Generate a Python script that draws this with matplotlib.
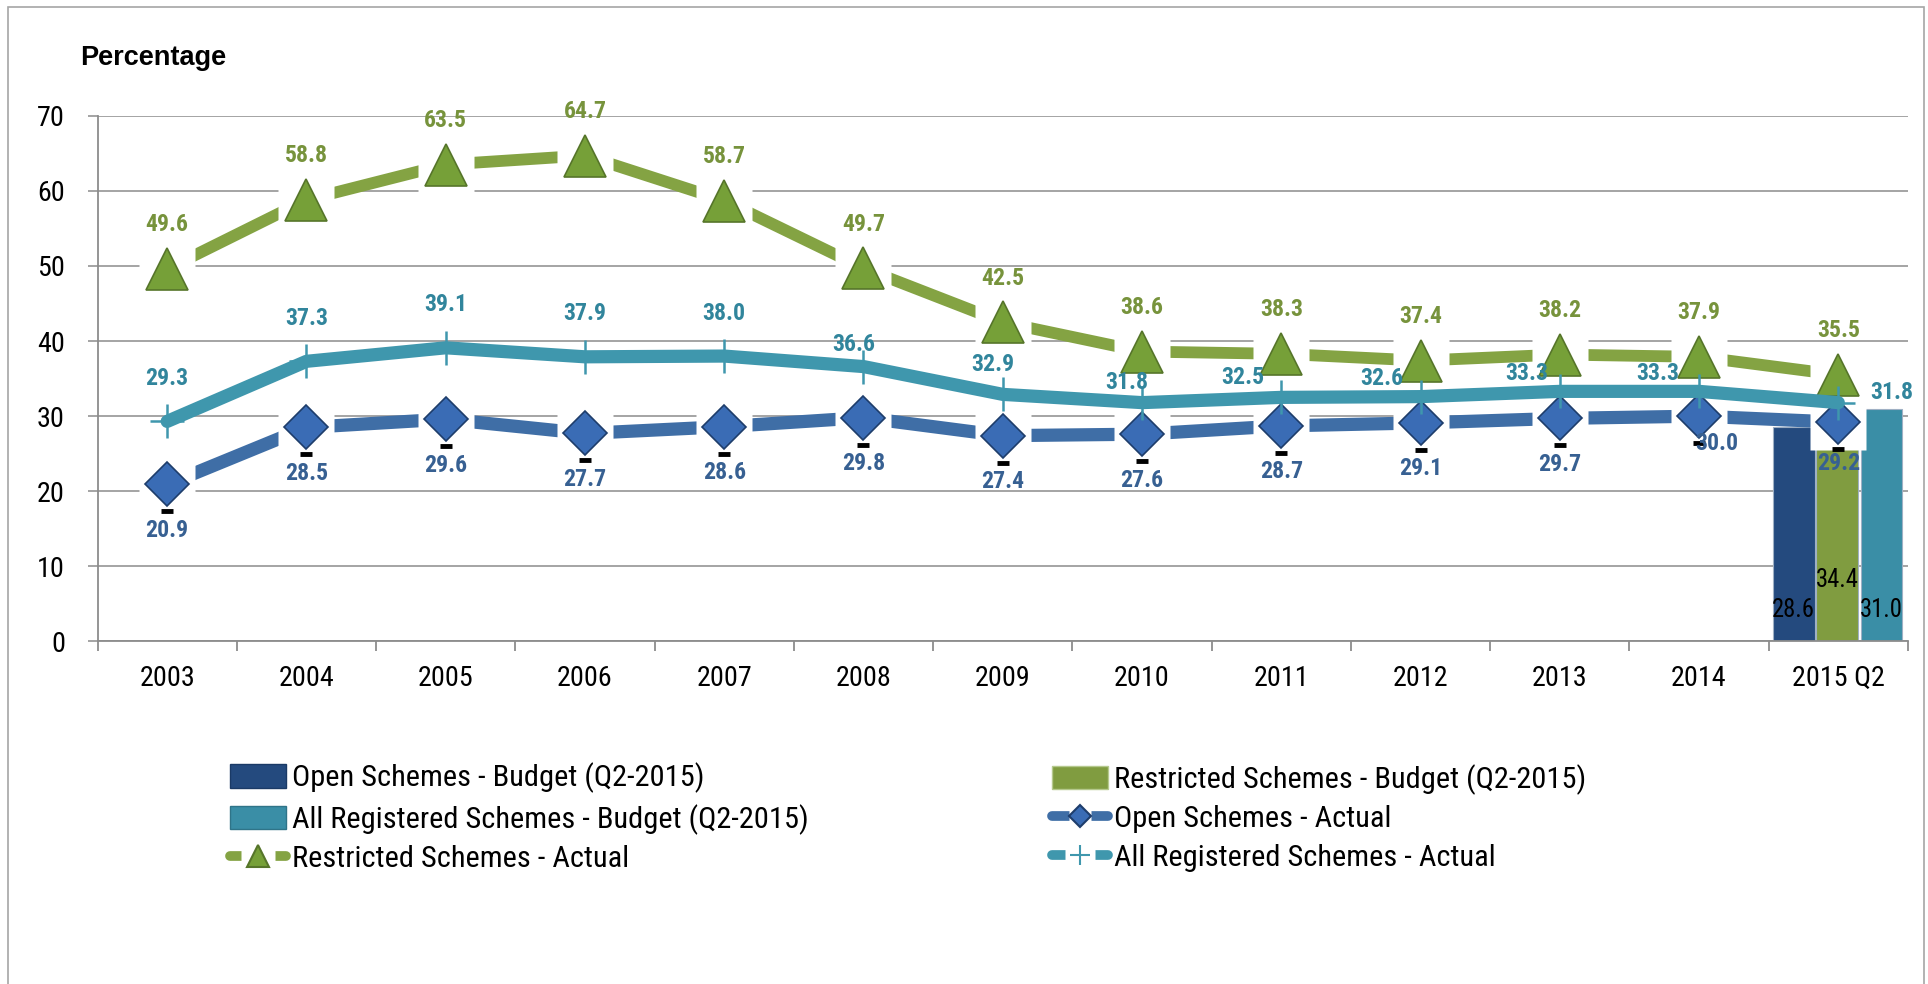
import matplotlib
matplotlib.use('Agg')
import matplotlib.pyplot as plt
from matplotlib import font_manager as fm
from matplotlib import transforms
from matplotlib.lines import Line2D
from matplotlib.patches import Patch, Rectangle
from matplotlib.legend_handler import HandlerTuple
import numpy as np

# Data
categories = ['2003', '2004', '2005', '2006', '2007', '2008', '2009',
              '2010', '2011', '2012', '2013', '2014', '2015 Q2']
restricted_actual = [49.6, 58.8, 63.5, 64.7, 58.7, 49.7, 42.5, 38.6, 38.3, 37.4, 38.2, 37.9, 35.5]
all_reg_actual = [29.3, 37.3, 39.1, 37.9, 38.0, 36.6, 32.9, 31.8, 32.5, 32.6, 33.3, 33.3, 31.8]
open_actual = [20.9, 28.5, 29.6, 27.7, 28.6, 29.8, 27.4, 27.6, 28.7, 29.1, 29.7, 30.0, 29.2]
budget_names = ['Open Schemes - Budget (Q2-2015)',
                'Restricted Schemes - Budget (Q2-2015)',
                'All Registered Schemes - Budget (Q2-2015)']
budget_values = [28.6, 34.4, 31.0]

# Styles
C_OPEN_BAR, C_RES_BAR, C_ALL_BAR = '#244a7e', '#809c40', '#3a8ea6'
C_RES_LINE, C_RES_MK, C_RES_TXT = '#84a343', '#76a038', '#77933c'
C_ALL_LINE, C_ALL_TXT = '#3f97ad', '#31859c'
C_OPEN_LINE, C_OPEN_MK, C_OPEN_TXT = '#3f6ea6', '#3a6cb5', '#376092'
GRID = '#8c8c8c'


# pick an Arial Narrow look-alike that is installed
def pick_family(cands, bold=False):
    have = {}
    for f in fm.fontManager.ttflist:
        have.setdefault(f.name, set()).add(f.weight if isinstance(f.weight, int) else 400)
    for c in cands:
        if c in have and (not bold or max(have[c]) >= 700):
            return c
    return 'Liberation Sans'


CANDS = ['Liberation Sans Narrow', 'Arial Narrow', 'Roboto Condensed', 'PT Sans Narrow',
         'Archivo Narrow', 'Barlow Semi Condensed']
NARROW = pick_family(CANDS)
NARROW_B = pick_family(CANDS, bold=True)
if NARROW != NARROW_B:
    NARROW = NARROW_B
plt.rcParams['font.family'] = [NARROW, 'DejaVu Sans']

x = np.arange(len(categories))

fig = plt.figure(figsize=(19.28, 9.84), dpi=100)
renderer = fig.canvas.get_renderer()


# font size giving a text of the width measured on the reference
def fit_size(text, family, weight, width_px):
    t = fig.text(0, 0, text, fontsize=20, family=family, fontweight=weight)
    w = t.get_window_extent(renderer).width
    t.remove()
    return 20 * width_px / w


FS_TICK = fit_size('2003', NARROW, 'normal', 55.7)
FS_LEG = fit_size(budget_names[0], NARROW, 'normal', 411)
FS_LAB = fit_size('58.7', NARROW_B, 'bold', 43)
FS_BAR = fit_size('28.6', NARROW, 'normal', 43)

ax = fig.add_axes([0.0506, 0.3481, 0.9390, 0.5343])

# budget bars at last category
bar_offsets = [-0.32, -0.01, 0.31]
bar_colors = [C_OPEN_BAR, C_RES_BAR, C_ALL_BAR]
bar_label_lift = [31, 61, 31]
for off, val, col, lift in zip(bar_offsets, budget_values, bar_colors, bar_label_lift):
    ax.bar(x[-1] + off, val, width=0.3, color=col, edgecolor='#9fb0c4',
           linewidth=0.8, zorder=2)
    ax.annotate(f'{val:.1f}', (x[-1] + off, 0), xytext=(0, lift),
                textcoords='offset pixels', ha='center', va='center',
                fontsize=FS_BAR, color='black', zorder=8)

# actual lines
ax.plot(x, restricted_actual, color=C_RES_LINE, lw=8.5, zorder=3, solid_capstyle='butt')
ax.plot(x, open_actual, color=C_OPEN_LINE, lw=9.5, zorder=3, solid_capstyle='butt')
# white boxes round markers
ax.plot(x, restricted_actual, ls='none', marker='s', ms=40, mfc='white', mec='none', zorder=4)
ax.plot(x, open_actual, ls='none', marker='s', ms=40, mfc='white', mec='none', zorder=4)
ax.plot(x, restricted_actual, ls='none', marker='^', ms=30, mfc=C_RES_MK,
        mec='#56752a', mew=1.2, zorder=5)
ax.plot(x, open_actual, ls='none', marker='D', ms=22, mfc=C_OPEN_MK,
        mec='#1e3d6b', mew=1.2, zorder=5)
# small dark shadow under each diamond
shadow = transforms.offset_copy(ax.transData, fig=fig, y=-27, units='dots')
ax.plot(x, open_actual, ls='none', marker='_', ms=9, mew=3.5, color='black',
        transform=shadow, zorder=5)
ax.plot(x, all_reg_actual, color=C_ALL_LINE, lw=9.5, zorder=6,
        solid_joinstyle='round', solid_capstyle='round')
ax.plot(x, all_reg_actual, ls='none', marker='+', ms=24, mew=1.8,
        color=C_ALL_LINE, zorder=6)

# data labels
lab_font = dict(fontsize=FS_LAB, fontweight='bold', family=[NARROW_B, 'DejaVu Sans'],
                ha='center', va='center', zorder=8)
for i, v in enumerate(restricted_actual):
    ax.annotate(f'{v:.1f}', (x[i], v), xytext=(0, 44), textcoords='offset pixels',
                color=C_RES_TXT, **lab_font)
all_label_off = [(0, 43), (0, 43), (0, 43), (0, 43), (0, 43), (-10, 22), (-10, 30),
                 (-15, 20), (-38, 20), (-39, 18), (-33, 18), (-41, 18), (53, 10)]
for i, v in enumerate(all_reg_actual):
    ax.annotate(f'{v:.1f}', (x[i], v), xytext=all_label_off[i], textcoords='offset pixels',
                color=C_ALL_TXT, **lab_font)
open_label_off = [(0, -46)] * 11 + [(18, -27), (0, -41)]
for i, v in enumerate(open_actual):
    ax.annotate(f'{v:.1f}', (x[i], v), xytext=open_label_off[i], textcoords='offset pixels',
                color=C_OPEN_TXT, **lab_font)

# axes
ax.set_xlim(-0.5, len(categories) - 0.5)
ax.set_ylim(0, 70)
ax.set_yticks(np.arange(0, 71, 10))
ax.set_xticks(x)
ax.set_xticklabels(categories)
ax.set_xticks(np.arange(-0.5, len(categories), 1.0), minor=True)
ax.grid(axis='y', color=GRID, lw=1.1, zorder=0)
ax.set_axisbelow(True)
for s in ['top', 'right']:
    ax.spines[s].set_visible(False)
for s in ['left', 'bottom']:
    ax.spines[s].set_color(GRID)
    ax.spines[s].set_linewidth(1.3)
ax.tick_params(axis='x', which='major', length=0, pad=17, labelsize=FS_TICK)
ax.tick_params(axis='x', which='minor', length=7, width=1.3, color=GRID)
ax.tick_params(axis='y', length=7, width=1.1, color=GRID, pad=16.5, labelsize=FS_TICK)

fig.text(80 / 1928, 1 - 58 / 984, 'Percentage', fontsize=19.5, fontweight='bold',
         family=['Liberation Sans', 'DejaVu Sans'], ha='left', va='center')


# legend, two columns
def line_handle(col, lw, marker, ms, mfc, mec):
    return (Line2D([], [], color=col, lw=lw, solid_capstyle='round'),
            Line2D([], [], ls='none', marker='s', ms=ms * 1.5, mfc='white', mec='none'),
            Line2D([], [], ls='none', marker=marker, ms=ms, mfc=mfc, mec=mec, mew=1.5))


h_open_b = Patch(facecolor=C_OPEN_BAR, edgecolor='#1a3a66')
h_res_b = Patch(facecolor=C_RES_BAR, edgecolor='#b5c98d')
h_all_b = Patch(facecolor=C_ALL_BAR, edgecolor='#2f7488')
h_open_a = line_handle(C_OPEN_LINE, 7, 'D', 11, C_OPEN_MK, '#1e3d6b')
h_res_a = line_handle(C_RES_LINE, 7, '^', 16, C_RES_MK, '#56752a')
h_all_a = line_handle(C_ALL_LINE, 7, '+', 14, C_ALL_LINE, C_ALL_LINE)

leg_kw = dict(frameon=False, fontsize=FS_LEG, handlelength=40 / FS_LEG, handleheight=0.8,
              handletextpad=0.2, labelspacing=0.35, borderpad=0, borderaxespad=0,
              loc='center left',
              handler_map={tuple: HandlerTuple(ndivide=1, pad=0)})
fig.legend([h_open_b, h_all_b, h_res_a],
           [budget_names[0], budget_names[2], 'Restricted Schemes - Actual'],
           bbox_to_anchor=(230 / 1928, 1 - 818 / 984), **leg_kw)
fig.legend([h_res_b, h_open_a, h_all_a],
           [budget_names[1], 'Open Schemes - Actual', 'All Registered Schemes - Actual'],
           bbox_to_anchor=(1052 / 1928, 1 - 818 / 984), **leg_kw)

# outer border
fig.patches.append(Rectangle((8 / 1928, -0.01), 1916 / 1928, 1.01 - 7 / 984,
                             transform=fig.transFigure, fill=False,
                             edgecolor='#a6a6a6', lw=1.2))

fig.savefig('out.png', dpi=100)
